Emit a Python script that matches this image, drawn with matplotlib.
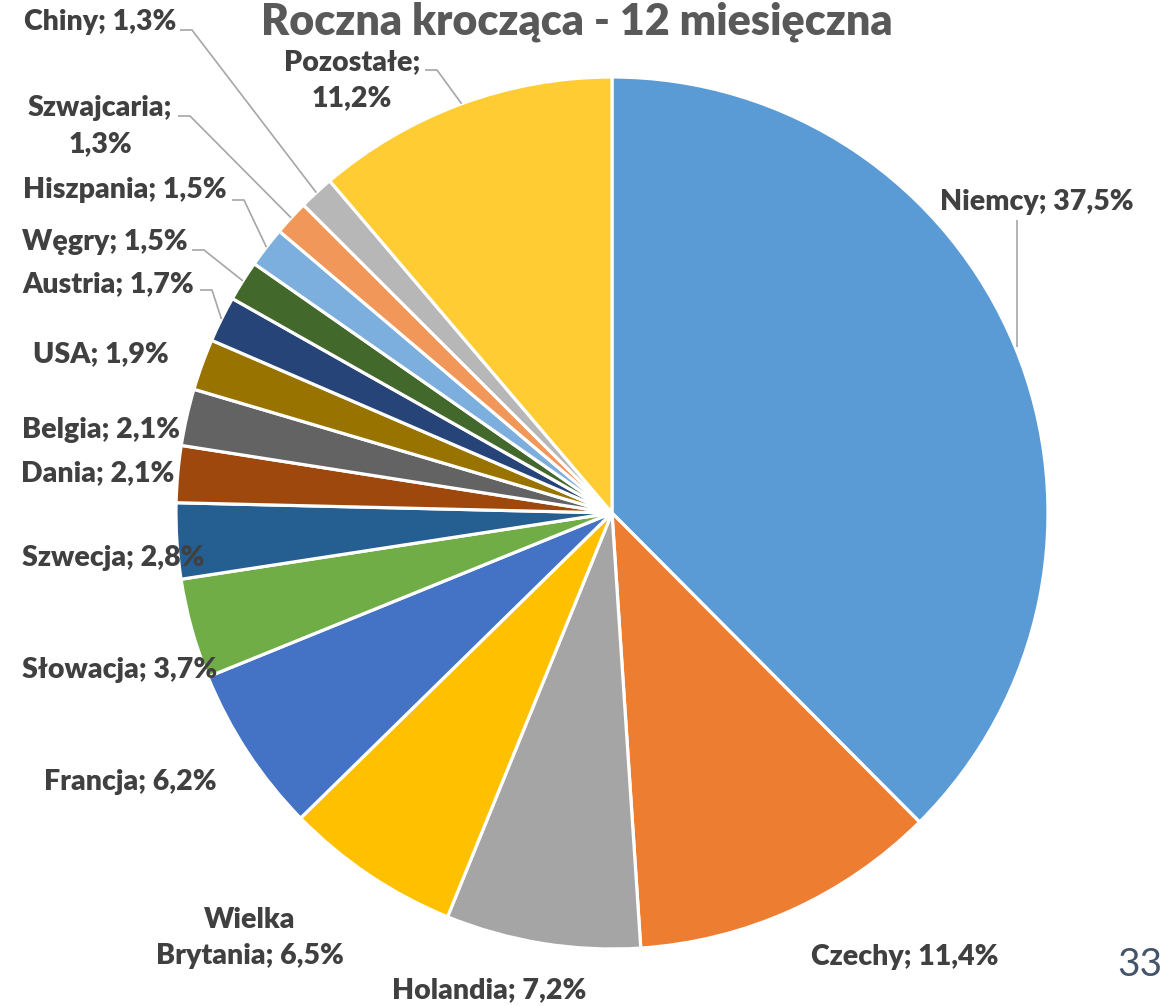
import numpy as np
import matplotlib
matplotlib.use("Agg")
import matplotlib.pyplot as plt

# ---- data ----
countries = ["Niemcy", "Czechy", "Holandia", "Wielka\nBrytania", "Francja", "Słowacja",
             "Szwecja", "Dania", "Belgia", "USA", "Austria", "Węgry", "Hiszpania",
             "Szwajcaria;\n", "Chiny", "Pozostałe;\n"]
shares = [37.5, 11.4, 7.2, 6.5, 6.2, 3.7, 2.8, 2.1, 2.1, 1.9, 1.7, 1.5, 1.5, 1.3, 1.3, 11.2]
colors = ["#5B9BD5", "#ED7D31", "#A5A5A5", "#FFC000", "#4472C4", "#70AD47",
          "#255E91", "#9E480E", "#636363", "#997300", "#264478", "#43682B",
          "#7CAFDD", "#F1975A", "#B7B7B7", "#FFCD33"]
title = "Roczna krocząca - 12 miesięczna"
page_no = "33"

# ---- layout (pixel coords, origin top-left) ----
W, H = 1165, 1006
CX, CY, R = 612, 513, 436
label_pos = [(1037, 202), (905, 957), (489, 990), (250, 938), (130, 782), (120, 670),
             (113, 558), (98, 473), (101, 430), (101, 354), (108, 284), (105, 242),
             (125, 190), (100, 126), (100, 22), (352, 80)]
leader_start = {0: ("v", 1017, 220), 10: ("h", 200, 290), 11: ("h", 192, 250),
                12: ("h", 232, 200), 13: ("h", 178, 116), 14: ("h", 180, 30),
                15: ("h", 425, 70)}

plt.rcParams['font.family'] = ['Lato', 'DejaVu Sans']
fig = plt.figure(figsize=(W / 100, H / 100), dpi=100)
ax = fig.add_axes([0, 0, 1, 1])
ax.set_xlim(0, W)
ax.set_ylim(0, H)
ax.set_aspect('equal')
ax.axis('off')

def fy(y):
    return H - y

wedges, _ = ax.pie(shares, colors=colors, startangle=90, counterclock=False,
                   center=(CX, fy(CY)), radius=R,
                   wedgeprops=dict(edgecolor='white', linewidth=2.3))
ax.set_xlim(0, W)
ax.set_ylim(0, H)

txtc = "#404040"
for i, (name, v) in enumerate(zip(countries, shares)):
    val = f"{v:.1f}".replace(".", ",") + "%"
    if name.endswith("\n"):
        s = name + val
    else:
        s = name + "; " + val
    x, y = label_pos[i]
    ax.text(x, fy(y), s, ha='center', va='center', fontsize=20.5, fontweight='heavy',
            color=txtc, linespacing=1.45)

total = sum(shares)
cum = np.cumsum([0] + shares)
for i, spec in leader_start.items():
    mid = (cum[i] + cum[i + 1]) / 2 / total * 2 * np.pi
    ex = CX + R * np.sin(mid)
    ey = CY - R * np.cos(mid)
    kind, sx, sy = spec
    if kind == "v":
        xs, ys = [sx, sx], [sy, ey]
    else:
        xs, ys = [sx, sx + 12, ex], [sy, sy, ey]
    ax.plot(xs, [fy(t) for t in ys], color="#A6A6A6", lw=1.2, solid_capstyle='butt')

ax.text(577, fy(22), title, ha='center', va='center', fontsize=31, fontweight='heavy',
        color="#595959")
ax.text(1140, fy(965), page_no, ha='center', va='center', fontsize=28, fontweight='normal',
        color="#44546A")

fig.savefig("out.png", dpi=100)
